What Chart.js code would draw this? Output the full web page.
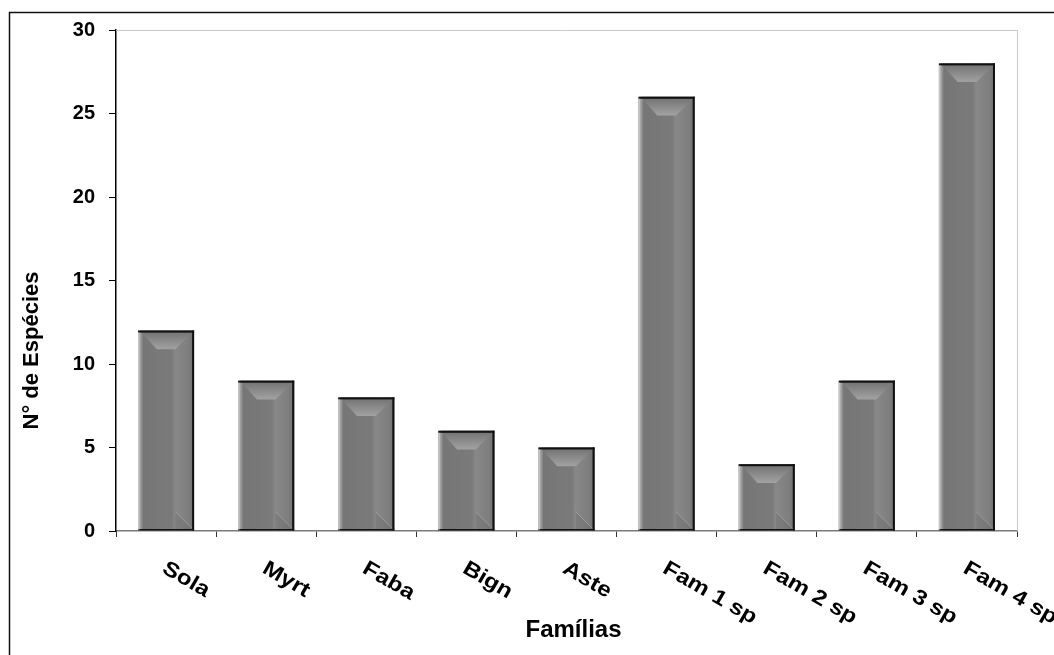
<!DOCTYPE html>
<html>
<head>
<meta charset="utf-8">
<script src="https://cdn.jsdelivr.net/npm/chart.js@4.4.1/dist/chart.umd.min.js"></script>
<style>
  html, body { margin: 0; padding: 0; background: #fff; }
  #wrap { width: 1054px; height: 655px; position: relative; }
</style>
</head>
<body>
<div id="wrap"><canvas id="myChart"></canvas></div>
<script>
// data
const familias = ['Sola', 'Myrt', 'Faba', 'Bign', 'Aste', 'Fam 1 sp', 'Fam 2 sp', 'Fam 3 sp', 'Fam 4 sp'];
const especies = [12, 9, 8, 6, 5, 26, 4, 9, 28];
const yTicks = [0, 5, 10, 15, 20, 25, 30];
const yTitle = 'N° de Espécies';
const xTitle = 'Famílias';

const labelFont = 'bold 21px "Liberation Sans", Arial, sans-serif';

// draws the bevelled look of the bars + the frame / titles / slanted labels
const decor = {
  id: 'decor',
  afterDatasetsDraw(chart) {
    const ctx = chart.ctx;
    const meta = chart.getDatasetMeta(0);
    meta.data.forEach((bar) => {
      const {x, y, base, width} = bar.getProps(['x', 'y', 'base', 'width'], true);
      const L = x - width / 2, R = x + width / 2, T = y, B = base;
      const bv = Math.min(20, width / 3, (B - T) / 2);
      ctx.save();
      // face
      let g = ctx.createLinearGradient(L, 0, R, 0);
      g.addColorStop(0, '#b4b4b4');
      g.addColorStop(0.05, '#9a9a9a');
      g.addColorStop(0.09, '#767676');
      g.addColorStop(0.6, '#7a7a7a');
      g.addColorStop(0.66, '#888888');
      g.addColorStop(0.9, '#7e7e7e');
      g.addColorStop(1, '#6e6e6e');
      ctx.fillStyle = g;
      ctx.fillRect(L, T, width, B - T);
      // top bevel
      g = ctx.createLinearGradient(0, T, 0, T + bv);
      g.addColorStop(0, '#707070');
      g.addColorStop(1, '#a2a2a2');
      ctx.fillStyle = g;
      ctx.beginPath();
      ctx.moveTo(L + 2, T);
      ctx.lineTo(R, T);
      ctx.lineTo(R - bv, T + bv);
      ctx.lineTo(L + bv, T + bv);
      ctx.closePath();
      ctx.fill();
      // bottom-right bevel
      ctx.fillStyle = 'rgba(60,60,60,0.12)';
      ctx.beginPath();
      ctx.moveTo(R - bv, B);
      ctx.lineTo(R, B);
      ctx.lineTo(R - bv, B - bv);
      ctx.closePath();
      ctx.fill();
      ctx.strokeStyle = 'rgba(190,190,190,0.45)';
      ctx.lineWidth = 1;
      ctx.beginPath();
      ctx.moveTo(R - bv, B - bv);
      ctx.lineTo(R - 1, B - 1);
      ctx.stroke();
      // edges
      ctx.fillStyle = '#111';
      ctx.fillRect(L, T, width, 2);
      ctx.fillRect(R - 2, T, 2, B - T);
      ctx.fillRect(L, B - 1.5, width, 1.5);
      ctx.fillStyle = '#c4c4c4';
      ctx.fillRect(L, T + 2, 1.5, B - T - 3);
      ctx.restore();
    });
  },
  afterDraw(chart) {
    const ctx = chart.ctx;
    const area = chart.chartArea;
    const xs = chart.scales.x;
    ctx.save();
    // light plot border top / right
    ctx.strokeStyle = '#c8c8c8';
    ctx.lineWidth = 1;
    ctx.beginPath();
    ctx.moveTo(area.left, area.top + 0.5);
    ctx.lineTo(area.right + 0.5, area.top + 0.5);
    ctx.lineTo(area.right + 0.5, area.bottom);
    ctx.stroke();
    // outer frame
    ctx.strokeStyle = '#111';
    ctx.lineWidth = 1.5;
    ctx.beginPath();
    ctx.moveTo(9.5, chart.height + 2);
    ctx.lineTo(9.5, 12.5);
    ctx.lineTo(chart.width + 2, 12.5);
    ctx.stroke();
    // slanted category labels
    ctx.fillStyle = '#000';
    ctx.font = labelFont;
    ctx.textAlign = 'left';
    ctx.textBaseline = 'alphabetic';
    familias.forEach((lab, i) => {
      const px = xs.getPixelForValue(i);
      ctx.save();
      ctx.translate(px - 5, area.bottom + 41);
      ctx.rotate(Math.PI / 6);
      ctx.scale(1.15, 1);
      ctx.fillText(lab, 0, 0);
      ctx.restore();
    });
    // axis titles
    ctx.font = 'bold 24px "Liberation Sans", Arial, sans-serif';
    ctx.textAlign = 'center';
    ctx.fillText(xTitle, (area.left + area.right) / 2 + 7, area.bottom + 106);
    ctx.save();
    ctx.translate(38, (area.top + area.bottom) / 2 + 70);
    ctx.rotate(-Math.PI / 2);
    ctx.font = 'bold 22px "Liberation Sans", Arial, sans-serif';
    ctx.fillText(yTitle, 0, 0);
    ctx.restore();
    ctx.restore();
  }
};

const myChart = new Chart('myChart', {
  type: 'bar',
  data: {
    labels: familias,
    datasets: [{
      data: especies,
      backgroundColor: '#7a7a7a',
      borderWidth: 0,
      barPercentage: 0.56,
      categoryPercentage: 1.0
    }]
  },
  options: {
    responsive: true,
    maintainAspectRatio: false,
    devicePixelRatio: 1,
    animation: false,
    events: [],
    layout: { padding: { left: 0, top: 30, right: 37, bottom: 0 } },
    plugins: {
      legend: { display: false },
      tooltip: { enabled: false }
    },
    scales: {
      x: {
        afterFit: (s) => { s.height = 124; },
        ticks: { display: false },
        grid: { drawOnChartArea: false, drawTicks: true, tickLength: 6, color: '#333', offset: true },
        border: { display: true, color: '#7a7a7a', width: 1.5 }
      },
      y: {
        min: yTicks[0],
        max: yTicks[yTicks.length - 1],
        afterFit: (s) => { s.width = 116; },
        ticks: {
          stepSize: yTicks[1] - yTicks[0],
          padding: 14,
          color: '#000',
          font: { family: '"Liberation Sans", Arial, sans-serif', size: 20, weight: 'bold' }
        },
        grid: { drawOnChartArea: false, drawTicks: true, tickLength: 7, color: '#000' },
        border: { display: true, color: '#000', width: 1.5 }
      }
    }
  },
  plugins: [decor]
});
</script>
</body>
</html>
